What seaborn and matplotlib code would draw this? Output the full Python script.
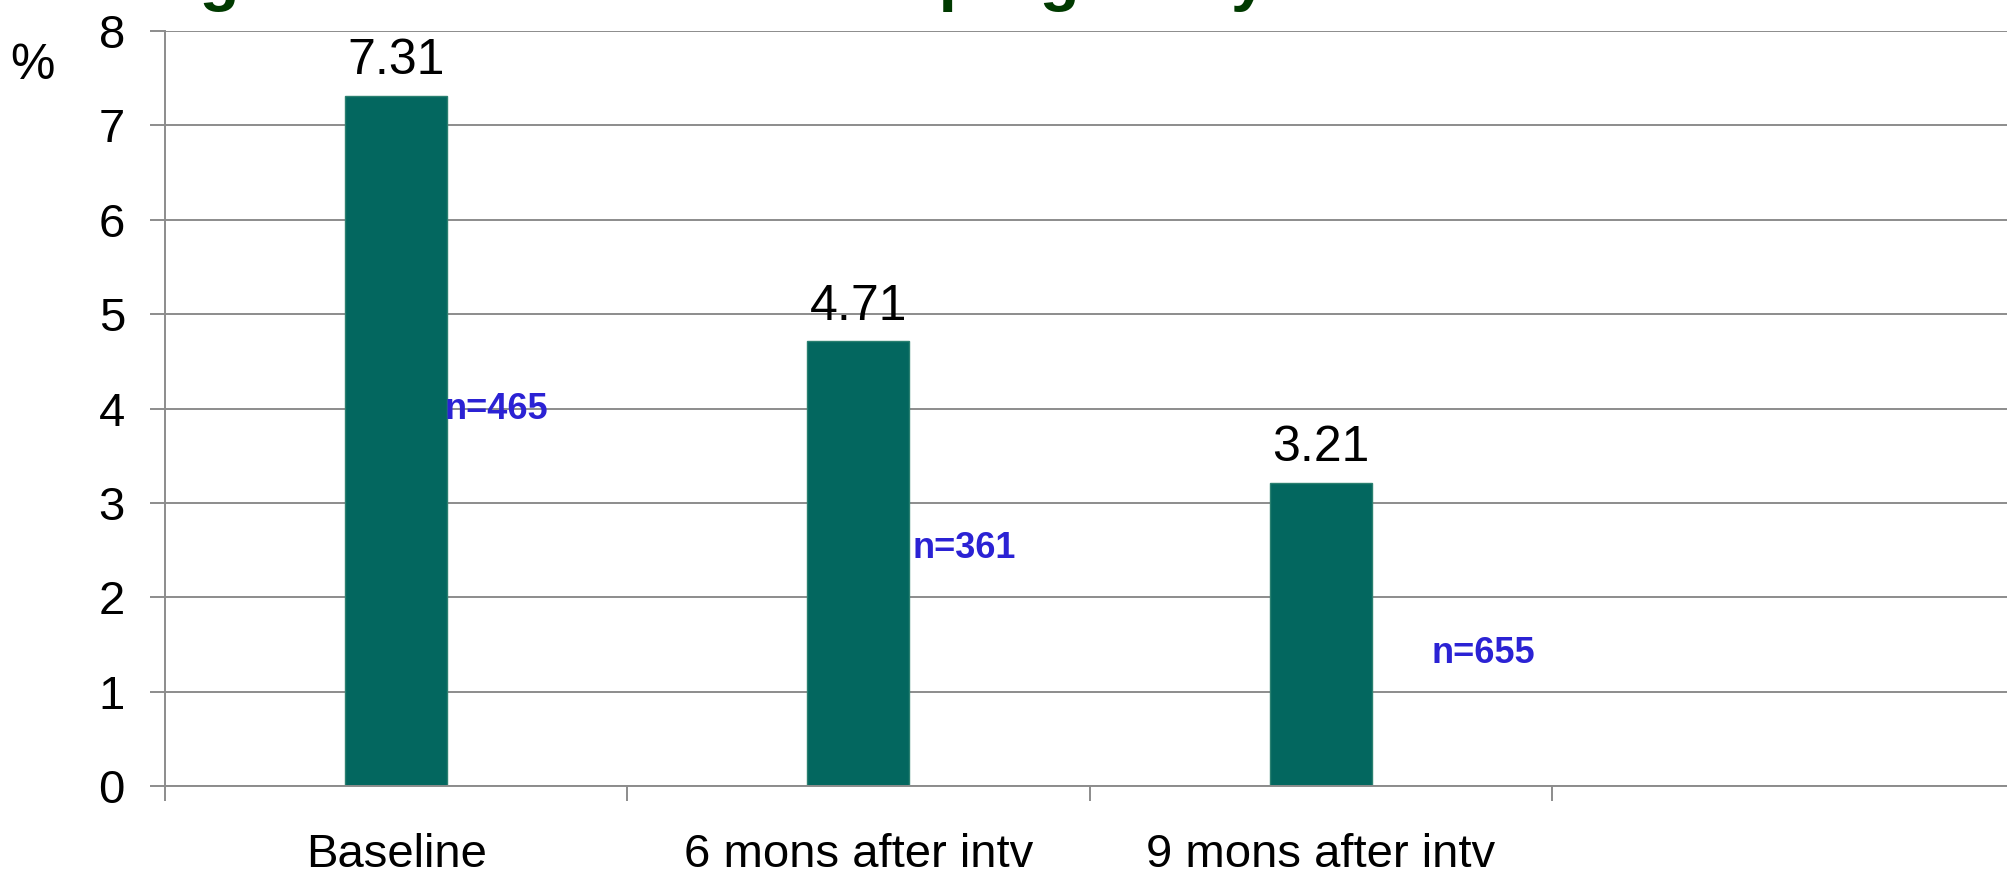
import matplotlib
matplotlib.use("Agg")
import matplotlib.pyplot as plt
import seaborn as sns
import pandas as pd

# ---------------- data ----------------
categories = ["Baseline", "6 mons after intv", "9 mons after intv"]
rates = [7.31, 4.71, 3.21]
sample_sizes = [465, 361, 655]
y_ticks = [0, 1, 2, 3, 4, 5, 6, 7, 8]
title_text = "Drinking rate in the first half of pregnancy"
y_unit = "%"

# ---------------- layout (not data) ----------------
n_label_dx = [0.217, 0.228, 0.353]   # offset from category centre
n_label_y = [3.99, 2.52, 1.40]       # vertical placement of n= labels

W, H, DPI = 2007, 877, 100
GRID = "#8c8c8c"

sns.set_theme(style="white")
plt.rcParams["font.family"] = ["Liberation Sans", "DejaVu Sans"]

fig = plt.figure(figsize=(W / DPI, H / DPI), dpi=DPI)
ax = fig.add_axes([165 / W, (H - 786) / H, (2014 - 165) / W, (786 - 31) / H])

df = pd.DataFrame({"period": categories, "rate": rates})
sns.barplot(data=df, x="period", y="rate", order=categories, color="#03675f",
            saturation=1, width=0.221, edgecolor="#2a8070", linewidth=1, ax=ax)

ax.set_xlim(-0.5, 3.5)
ax.set_ylim(0, 8)
ax.set_yticks(y_ticks)
ax.set_yticklabels([str(t) for t in y_ticks])
ax.set_xticks(range(len(categories)))
ax.set_xticklabels(categories)
ax.set_xticks([i - 0.5 for i in range(len(categories) + 2)], minor=True)
ax.set_xlabel("")
ax.set_ylabel("")

ax.yaxis.grid(True, color=GRID, linewidth=1.4)
ax.xaxis.grid(False)
ax.set_axisbelow(True)
for s in ["top", "right"]:
    ax.spines[s].set_visible(False)
for s in ["left", "bottom"]:
    ax.spines[s].set_color(GRID)
    ax.spines[s].set_linewidth(1.4)

ax.tick_params(axis="y", left=True, length=10.8, width=1.4, color=GRID,
               pad=18, labelsize=34, labelcolor="black", direction="out")
ax.tick_params(axis="x", which="major", bottom=False, length=0, pad=34,
               labelsize=34, labelcolor="black")
ax.tick_params(axis="x", which="minor", bottom=True, length=10.8, width=1.4,
               color=GRID, direction="out")

for i, v in enumerate(rates):
    ax.annotate(f"{v:.2f}", (i, v), xytext=(0, 15.8), textcoords="offset points",
                ha="center", va="baseline", fontsize=36, color="black")

for i, n in enumerate(sample_sizes):
    ax.text(i + n_label_dx[i], n_label_y[i], f"n={n}", ha="center", va="center",
            fontsize=26, fontweight="bold", color="#2b22d4")

fig.text(32 / W, 1 - 66 / H, y_unit, ha="center", va="center", fontsize=36,
         color="black")

fig.text(-24 / W, 1 + 1.4 / H, title_text, ha="left", va="baseline",
         fontsize=46.8, fontweight="bold", color="#003a00")

fig.savefig("out.png", dpi=DPI)
